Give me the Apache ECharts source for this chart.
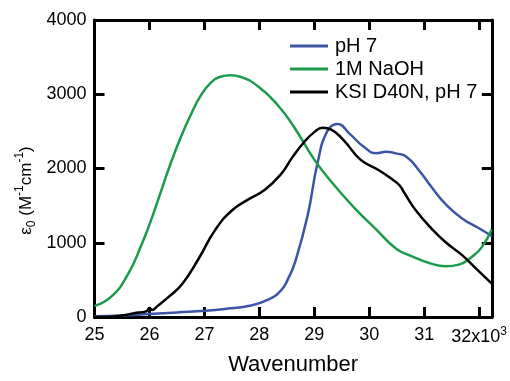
<!DOCTYPE html>
<html>
<head>
<meta charset="utf-8">
<script src="https://cdn.jsdelivr.net/npm/echarts@6/dist/echarts.min.js"></script>
<style>
html,body{margin:0;padding:0;background:#fff;}
#main{width:510px;height:381px;}
</style>
</head>
<body>
<div id="main"></div>
<script>
// Data (wavenumber in units of 10^3 cm^-1)
const seriesNames = ['pH 7', '1M NaOH', 'KSI D40N, pH 7'];
const xTicks = [25, 26, 27, 28, 29, 30, 31, 32];
const yTicks = [0, 1000, 2000, 3000, 4000];

const bluePH7_x = [25.0, 25.5, 26.0, 26.5, 27.02, 27.4, 27.8, 28.16, 28.4, 28.52, 28.65, 28.88, 29.06, 29.24, 29.42, 29.65, 29.9, 30.13, 30.31, 30.5, 30.67, 30.91, 31.15, 31.39, 31.69, 31.99, 32.23];
const bluePH7_y = [10, 20, 41, 62, 84, 110, 148, 234, 363, 510, 740, 1370, 2077, 2506, 2600, 2463, 2292, 2206, 2227, 2200, 2163, 1970, 1734, 1520, 1327, 1199, 1091];

const greenNaOH_x = [25.0, 25.31, 25.61, 25.85, 26.03, 26.21, 26.39, 26.57, 26.75, 26.93, 27.11, 27.29, 27.47, 27.65, 27.98, 28.34, 28.64, 29.0, 29.36, 29.72, 30.13, 30.49, 30.79, 31.09, 31.39, 31.63, 31.87, 32.05, 32.23];
const greenNaOH_y = [148, 277, 577, 962, 1305, 1691, 2077, 2420, 2720, 2977, 3149, 3235, 3256, 3235, 3106, 2849, 2549, 2120, 1777, 1477, 1177, 920, 813, 727, 684, 705, 813, 941, 1177];

const blackKSI_x = [25.0, 25.3, 25.5, 25.8, 25.95, 26.0, 26.05, 26.15, 26.36, 26.6, 26.9, 27.2, 27.5, 27.8, 28.1, 28.4, 28.6, 28.82, 29.0, 29.15, 29.3, 29.54, 29.84, 30.19, 30.44, 30.55, 30.64, 30.85, 31.15, 31.39, 31.69, 31.93, 32.23];
const blackKSI_y = [0, 5, 20, 60, 80, 120, 95, 150, 277, 448, 791, 1177, 1434, 1584, 1713, 1930, 2150, 2360, 2490, 2550, 2527, 2377, 2120, 1970, 1842, 1775, 1670, 1434, 1177, 1006, 834, 662, 450];

function pairs(xs, ys) { return xs.map((x, i) => [x, ys[i]]); }

const FONT = '"Liberation Sans", Arial, Helvetica, sans-serif';
const chart = echarts.init(document.getElementById('main'), null, {renderer: 'canvas'});

const axisLineStyle = {color: '#000', width: 3};
const tickStyle = {color: '#000', width: 3};
const SM = 0.5;

const option = {
  backgroundColor: '#fff',
  animation: false,
  grid: {left: 94.5, right: 13.3, top: 20, bottom: 49.5, containLabel: false},
  legend: {
    orient: 'vertical',
    left: 285,
    top: 31,
    itemWidth: 38,
    itemHeight: 3,
    itemGap: 3,
    icon: 'rect',
    textStyle: {fontFamily: FONT, fontSize: 20, color: '#000', lineHeight: 20, padding: [0, 0, 0, 2]},
    data: seriesNames
  },
  graphic: [{
    type: 'text',
    left: 14, top: 'middle',
    rotation: Math.PI / 2,
    style: {
      text: '{a|ε}{sub|0}{a| (M}{sup|-1}{a|cm}{sup|-1}{a|)}',
      fill: '#000',
      rich: {
        a: {fontFamily: FONT, fontSize: 17, fill: '#000', lineHeight: 24},
        sub: {fontFamily: FONT, fontSize: 12, fill: '#000', lineHeight: 24, verticalAlign: 'bottom'},
        sup: {fontFamily: FONT, fontSize: 12, fill: '#000', lineHeight: 24, verticalAlign: 'top'}
      }
    }
  }],
  xAxis: [{
    type: 'value', min: 25, max: 32.23, interval: 1, position: 'bottom',
    axisLine: {show: true, onZero: false, lineStyle: axisLineStyle},
    axisTick: {show: true, inside: true, length: 10, lineStyle: tickStyle, customValues: xTicks},
    splitLine: {show: false},
    axisLabel: {
      customValues: xTicks, margin: 9, color: '#000', fontFamily: FONT, fontSize: 18,
      formatter: function (v) { return v === 32 ? '32x10{sup|3}' : String(v); },
      rich: {sup: {fontSize: 12, fontFamily: FONT, color: '#000', verticalAlign: 'top', padding: [0, 0, 10, 0]}}
    },
    name: 'Wavenumber', nameLocation: 'middle', nameGap: 37,
    nameTextStyle: {fontFamily: FONT, fontSize: 22, color: '#000'}
  }, {
    type: 'value', min: 25, max: 32.23, interval: 1, position: 'top',
    axisLine: {show: true, onZero: false, lineStyle: axisLineStyle},
    axisTick: {show: true, inside: true, length: 10, lineStyle: tickStyle, customValues: xTicks},
    axisLabel: {show: false}, splitLine: {show: false}
  }],
  yAxis: [{
    type: 'value', min: 0, max: 4000, interval: 1000, position: 'left',
    axisLine: {show: true, onZero: false, lineStyle: axisLineStyle},
    axisTick: {show: true, inside: true, length: 10, lineStyle: tickStyle},
    splitLine: {show: false},
    axisLabel: {margin: 8, color: '#000', fontFamily: FONT, fontSize: 18, formatter: function (v) { return String(v); }}
  }, {
    type: 'value', min: 0, max: 4000, interval: 1000, position: 'right',
    axisLine: {show: true, onZero: false, lineStyle: axisLineStyle},
    axisTick: {show: true, inside: true, length: 10, lineStyle: tickStyle},
    axisLabel: {show: false}, splitLine: {show: false}
  }],
  series: [{
    name: seriesNames[0], type: 'line', xAxisIndex: 0, yAxisIndex: 0,
    data: pairs(bluePH7_x, bluePH7_y), smooth: SM, showSymbol: false,
    color: '#3b55a5', lineStyle: {color: '#3b55a5', width: 2.5}
  }, {
    name: seriesNames[1], type: 'line', xAxisIndex: 0, yAxisIndex: 0,
    data: pairs(greenNaOH_x, greenNaOH_y), smooth: SM, showSymbol: false,
    color: '#1b9a4b', lineStyle: {color: '#1b9a4b', width: 2.5}
  }, {
    name: seriesNames[2], type: 'line', xAxisIndex: 0, yAxisIndex: 0,
    data: pairs(blackKSI_x, blackKSI_y), smooth: SM, showSymbol: false,
    color: '#000', lineStyle: {color: '#000', width: 2.5}
  }]
};
chart.setOption(option);
</script>
</body>
</html>
